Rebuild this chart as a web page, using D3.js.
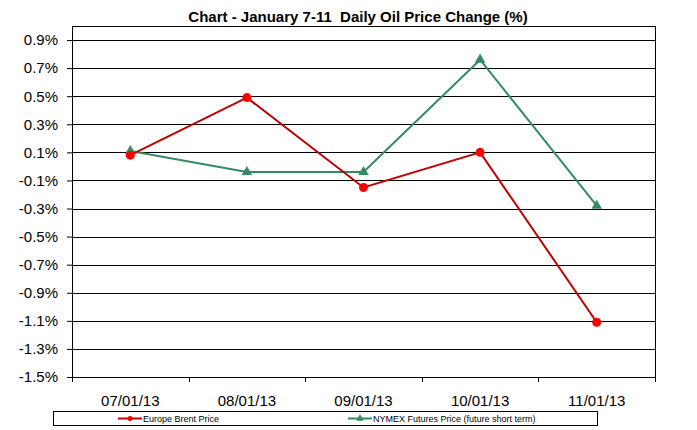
<!DOCTYPE html>
<html lang="en">
<head>
  <meta charset="UTF-8">
  <title>Daily Oil Price Change</title>
  <style>
    body, html {
      margin: 0;
      padding: 0;
      background: #fff;
    }
    text {
      font-family: "Liberation Sans", Arial, sans-serif;
    }
  </style>
</head>
<body>
  <svg id="svg" width="697" height="430"></svg>
  <script src="https://d3js.org/d3.v7.min.js"></script>
  <script>
    // data (% change)
    const dates = ['07/01/13', '08/01/13', '09/01/13', '10/01/13', '11/01/13']
    const brent = [0.08, 0.49, -0.15, 0.10, -1.11]
    const nymex = [0.11, -0.04, -0.04, 0.76, -0.28]
    const yTicks = [0.9, 0.7, 0.5, 0.3, 0.1, -0.1, -0.3, -0.5, -0.7, -0.9, -1.1, -1.3, -1.5]

    const plotLeft = 72, plotRight = 655, plotTop = 26, plotBottom = 377

    const svg = d3.select('#svg')

    const x = d3.scaleBand()
      .domain(dates)
      .range([plotLeft, plotRight])

    const y = d3.scaleLinear()
      .domain([-1.5, 1.0])
      .range([plotBottom, plotTop])

    // plot frame
    svg.append('rect')
      .attr('x', plotLeft + 0.5)
      .attr('y', plotTop + 0.5)
      .attr('width', plotRight - plotLeft)
      .attr('height', plotBottom - plotTop)
      .attr('fill', 'none')
      .attr('stroke', '#000')
      .attr('stroke-width', 1)

    // gridlines
    svg.append('g')
      .selectAll('line')
      .data(yTicks)
      .join('line')
      .attr('x1', plotLeft)
      .attr('x2', plotRight)
      .attr('y1', d => Math.round(y(d)) + 0.5)
      .attr('y2', d => Math.round(y(d)) + 0.5)
      .attr('stroke', '#000')
      .attr('stroke-width', 1)

    // y axis
    const yAxis = svg.append('g')
      .attr('transform', `translate(${plotLeft},0)`)
      .call(d3.axisLeft(y)
        .tickValues(yTicks)
        .tickSize(5)
        .tickPadding(9)
        .tickFormat(d => d.toFixed(1) + '%'))
    yAxis.select('.domain').remove()
    yAxis.selectAll('.tick line').attr('stroke', '#000')
    yAxis.selectAll('.tick text')
      .attr('font-family', '"Liberation Sans", Arial, sans-serif')
      .attr('font-size', 15)
      .attr('fill', '#000')

    // x axis, ticks between categories
    const xAxis = svg.append('g')
      .attr('transform', `translate(0,${plotBottom})`)
      .call(d3.axisBottom(x).tickSize(0).tickPadding(18))
    xAxis.select('.domain').remove()
    xAxis.selectAll('.tick text')
      .attr('font-family', '"Liberation Sans", Arial, sans-serif')
      .attr('font-size', 15)
      .attr('fill', '#000')

    svg.append('g')
      .selectAll('line')
      .data(dates)
      .join('line')
      .attr('x1', d => Math.round(x(d)) + 0.5)
      .attr('x2', d => Math.round(x(d)) + 0.5)
      .attr('y1', plotBottom)
      .attr('y2', plotBottom + 5)
      .attr('stroke', '#000')
    svg.append('line')
      .attr('x1', plotRight + 0.5).attr('x2', plotRight + 0.5)
      .attr('y1', plotBottom).attr('y2', plotBottom + 5)
      .attr('stroke', '#000')

    const cx = d => x(d) + x.bandwidth() / 2
    const line = d3.line()
      .x(d => cx(d[0]))
      .y(d => y(d[1]))

    const triangle = d3.symbol().type(d3.symbolTriangle).size(48)

    // NYMEX series
    svg.append('path')
      .datum(d3.zip(dates, nymex))
      .attr('d', line)
      .attr('fill', 'none')
      .attr('stroke', '#348a63')
      .attr('stroke-width', 2)
    svg.append('g')
      .selectAll('path')
      .data(d3.zip(dates, nymex))
      .join('path')
      .attr('d', triangle)
      .attr('transform', d => `translate(${cx(d[0])},${y(d[1])})`)
      .attr('fill', '#348a63')

    // Brent series
    svg.append('path')
      .datum(d3.zip(dates, brent))
      .attr('d', line)
      .attr('fill', 'none')
      .attr('stroke', '#c00000')
      .attr('stroke-width', 2)
    svg.append('g')
      .selectAll('circle')
      .data(d3.zip(dates, brent))
      .join('circle')
      .attr('cx', d => cx(d[0]))
      .attr('cy', d => y(d[1]))
      .attr('r', 4.5)
      .attr('fill', '#ff0000')

    // title
    svg.append('text')
      .attr('x', 358)
      .attr('y', 22)
      .attr('text-anchor', 'middle')
      .attr('font-size', 15)
      .attr('font-weight', 'bold')
      .style('white-space', 'pre')
      .text('Chart - January 7-11  Daily Oil Price Change (%)')

    // legend
    const legend = svg.append('g')
    legend.append('rect')
      .attr('x', 53.5)
      .attr('y', 411.5)
      .attr('width', 544)
      .attr('height', 14)
      .attr('fill', '#fff')
      .attr('stroke', '#000')

    const legendItems = [
      { label: 'Europe Brent Price', color: '#c00000', marker: 'circle', x0: 118 },
      { label: 'NYMEX Futures Price (future short term)', color: '#348a63', marker: 'triangle', x0: 348 }
    ]

    legendItems.forEach(item => {
      legend.append('line')
        .attr('x1', item.x0).attr('x2', item.x0 + 24)
        .attr('y1', 418.5).attr('y2', 418.5)
        .attr('stroke', item.color)
        .attr('stroke-width', 2)
      if (item.marker === 'circle') {
        legend.append('circle')
          .attr('cx', item.x0 + 12).attr('cy', 418.5).attr('r', 2.5)
          .attr('fill', '#ff0000')
      } else {
        legend.append('path')
          .attr('d', d3.symbol().type(d3.symbolTriangle).size(24))
          .attr('transform', `translate(${item.x0 + 12},418.5)`)
          .attr('fill', item.color)
      }
      legend.append('text')
        .attr('x', item.x0 + 25)
        .attr('y', 422)
        .attr('font-size', 9)
        .attr('fill', '#000')
        .text(item.label)
    })
  </script>
</body>
</html>
